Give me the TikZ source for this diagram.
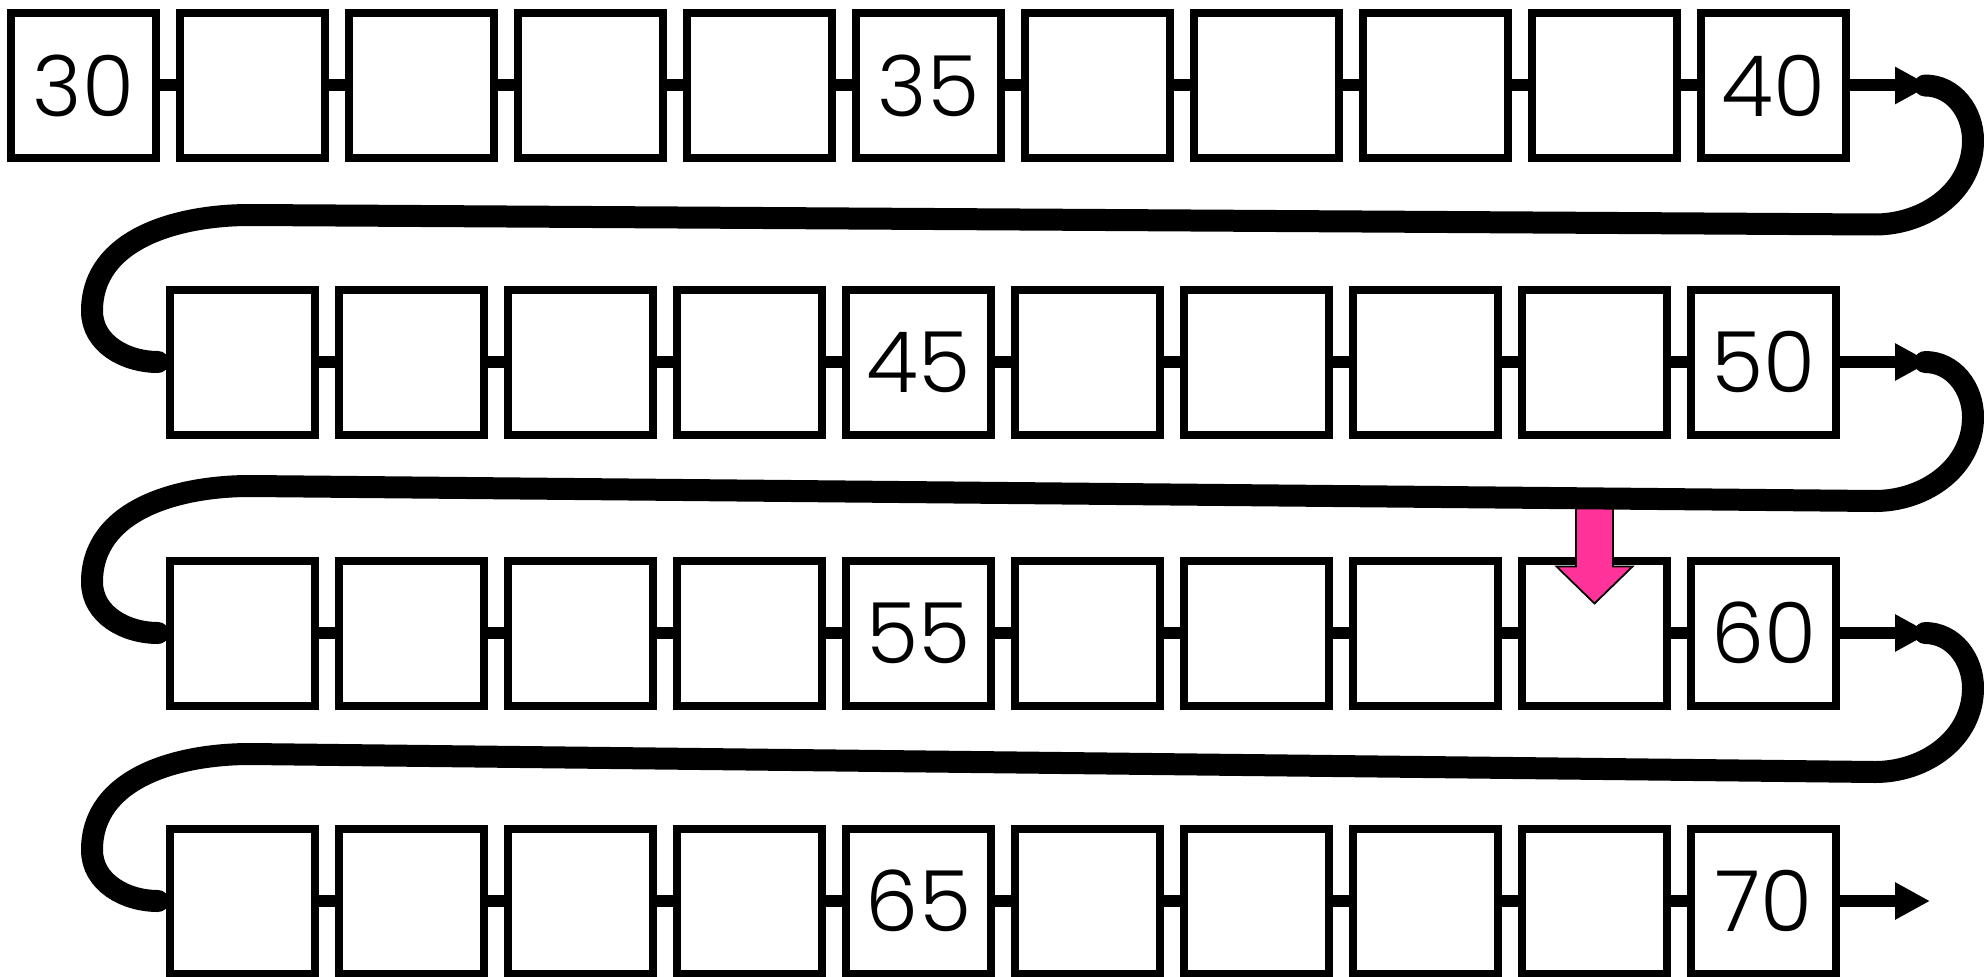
\documentclass[tikz,border=0pt]{standalone}
\usepackage{fontspec}
\setmainfont{Poppins}[UprightFont=* Light]
\usetikzlibrary{arrows.meta,positioning,calc}
\definecolor{ink}{HTML}{000000}
\definecolor{marker}{HTML}{FF3399}
\tikzset{
  cell/.style={
    draw=ink, line width=0.08cm,
    fill=white,
    minimum size=1.45cm,
    inner sep=0pt,
    font=\fontsize{24}{28}\selectfont,
  },
  link/.style={draw=ink, line width=0.12cm},
  arr/.style={-{Triangle[length=3.5mm,width=3.5mm]}, line width=0.12cm, draw=ink},
  wrap/.style={draw=ink, line width=0.22cm, line cap=round},
  pointer/.style={fill=marker, draw=ink, line width=0.5pt, line join=miter},
}

\begin{document}
\begin{tikzpicture}
  \useasboundingbox (0,0) rectangle (19.84,-9.76);

  % row starts
  \node[cell] (b30) at (0.835,-0.855) {30};
  \node[cell] (b41) at (2.425,-3.62) {};
  \node[cell] (b51) at (2.425,-6.33) {};
  \node[cell] (b61) at (2.425,-9.01) {};

  % the rest of each row, with links
  \foreach \n in {31,...,40,42,43,...,50,52,53,...,60,62,63,...,70} {
    \pgfmathtruncatemacro\p{\n-1}
    \pgfmathtruncatemacro\r{mod(\n,5)}
    \node[cell, right=0.16cm of b\p] (b\n) {\ifnum\r=0 \n\fi};
    \draw[link] (b\p) -- (b\n);
  }

  % row ends
  \foreach \a/\last in {1/40,2/50,3/60,4/70} {
    \coordinate (t\a) at (19.30,0 |- b\last);
    \coordinate (e\a) at (19.25,0 |- b\last);
    \draw[arr] (b\last) -- (t\a);
  }
  \foreach \nx/\first in {2/41,3/51,4/61} {
    \coordinate (s\nx) at (1.58,0 |- b\first);
    \draw[link] (s\nx) -- (b\first);
  }

  \draw[pointer, shift={(b59.north)}]
    (-0.185,0.52) -- (-0.185,-0.10) -- (-0.38,-0.10) -- (0,-0.47)
    -- (0.38,-0.10) -- (0.185,-0.10) -- (0.185,0.52) -- cycle;

  % wrap round to the next row
  \foreach \a/\nx in {1/2,2/3,3/4}
    \draw[wrap] (e\a) to[out=0,in=90] ($(e\a)+(0.48,-0.55)$)
      to[out=-90,in=0] ($(e\a)+(-0.50,-1.39)$)
      -- ($(s\nx)+(0.92,1.47)$)
      to[out=180,in=90] ($(s\nx)+(-0.66,0.51)$)
      to[out=-90,in=180] (s\nx);
\end{tikzpicture}
\end{document}
